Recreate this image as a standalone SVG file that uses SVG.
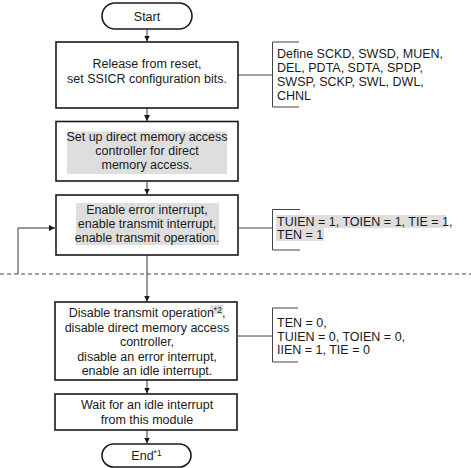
<svg xmlns="http://www.w3.org/2000/svg" width="471" height="468" viewBox="0 0 471 468">
<style>
.box{fill:#fff;stroke:#1a1a1a;stroke-width:1.6}
.hl{fill:#dedede}
.t{font-family:"Liberation Sans",Arial,sans-serif;font-size:12.5px;fill:#1a1a1a}
.c{text-anchor:middle}
.ln{fill:none;stroke:#333;stroke-width:1}
.br{fill:none;stroke:#444;stroke-width:1}
.sup{font-size:8.5px}
</style>
<defs>
<marker id="ah" viewBox="0 0 6 6" refX="6" refY="3" markerWidth="6" markerHeight="6" markerUnits="userSpaceOnUse" orient="auto">
<path d="M0,0 L6,3 L0,6 Z" fill="#1a1a1a"/>
</marker>
</defs>
<line x1="0" y1="274" x2="471" y2="274" stroke="#444" stroke-width="1" stroke-dasharray="4,3"/>
<g id="connectors">
<line class="ln" x1="147" y1="29" x2="147" y2="41.5" marker-end="url(#ah)"/>
<line class="ln" x1="147" y1="108" x2="147" y2="121" marker-end="url(#ah)"/>
<line class="ln" x1="147" y1="181" x2="147" y2="194.5" marker-end="url(#ah)"/>
<line class="ln" x1="147" y1="255" x2="147" y2="301.5" marker-end="url(#ah)"/>
<line class="ln" x1="147" y1="380" x2="147" y2="393.5" marker-end="url(#ah)"/>
<line class="ln" x1="147" y1="430" x2="147" y2="443.5" marker-end="url(#ah)"/>
<polyline class="ln" points="18,274 18,228 55,228" marker-end="url(#ah)"/>
<line class="br" x1="238" y1="75" x2="272.5" y2="75"/>
<line class="br" x1="238" y1="228" x2="272.5" y2="228"/>
<line class="br" x1="238" y1="336" x2="272.5" y2="336"/>
</g>
<g id="start">
<rect class="box" x="102" y="3" width="90" height="26" rx="13"/>
<text class="t c" x="147" y="20.5">Start</text>
</g>
<g id="box1">
<rect class="box" x="56" y="42" width="182" height="66"/>
<text class="t c" x="147" y="68">Release from reset,</text>
<text class="t c" x="147" y="83">set SSICR configuration bits.</text>
</g>
<g id="note1">
<polyline class="br" points="299,42 272.5,42 272.5,107 299,107"/>
<text class="t" x="277" y="58">Define SCKD, SWSD, MUEN,</text>
<text class="t" x="277" y="72">DEL, PDTA, SDTA, SPDP,</text>
<text class="t" x="277" y="86">SWSP, SCKP, SWL, DWL,</text>
<text class="t" x="277" y="100">CHNL</text>
</g>
<g id="box2">
<rect class="box" x="56" y="121.5" width="182" height="59.5"/>
<rect class="hl" x="67" y="131.5" width="160" height="42.5"/>
<text class="t c" x="147" y="141">Set up direct memory access</text>
<text class="t c" x="147" y="155">controller for direct</text>
<text class="t c" x="147" y="169">memory access.</text>
</g>
<g id="box3">
<rect class="box" x="56" y="195" width="182" height="60"/>
<rect class="hl" x="76" y="203" width="143" height="42"/>
<text class="t c" x="147" y="214">Enable error interrupt,</text>
<text class="t c" x="147" y="228">enable transmit interrupt,</text>
<text class="t c" x="147" y="241.5">enable transmit operation.</text>
</g>
<g id="note3">
<polyline class="br" points="300,209.5 272.5,209.5 272.5,250 300,250"/>
<rect class="hl" x="276" y="215" width="170" height="13"/>
<rect class="hl" x="276" y="228" width="48" height="13"/>
<text class="t" x="277" y="225.5">TUIEN = 1, TOIEN = 1, TIE = 1,</text>
<text class="t" x="277" y="239">TEN = 1</text>
</g>
<g id="box4">
<rect class="box" x="55" y="302" width="182" height="78"/>
<rect class="hl" x="210" y="305" width="13" height="9"/>
<text class="t c" x="147" y="317">Disable transmit operation<tspan class="sup" dy="-4">*2</tspan><tspan dy="4">,</tspan></text>
<text class="t c" x="147" y="331.5">disable direct memory access</text>
<text class="t c" x="147" y="346">controller,</text>
<text class="t c" x="147" y="360.5">disable an error interrupt,</text>
<text class="t c" x="147" y="375">enable an idle interrupt.</text>
</g>
<g id="note4">
<polyline class="br" points="298,308 272.5,308 272.5,362 298,362"/>
<text class="t" x="277" y="327">TEN = 0,</text>
<text class="t" x="277" y="340.5">TUIEN = 0, TOIEN = 0,</text>
<text class="t" x="277" y="354">IIEN = 1, TIE = 0</text>
</g>
<g id="box5">
<rect class="box" x="55" y="394" width="182" height="36"/>
<text class="t c" x="147" y="408.5">Wait for an idle interrupt</text>
<text class="t c" x="147" y="423.5">from this module</text>
</g>
<g id="end">
<rect class="box" x="102" y="444" width="89" height="23" rx="11.5"/>
<text class="t c" x="146.5" y="460">End<tspan class="sup" dy="-4">*1</tspan></text>
</g>
</svg>
